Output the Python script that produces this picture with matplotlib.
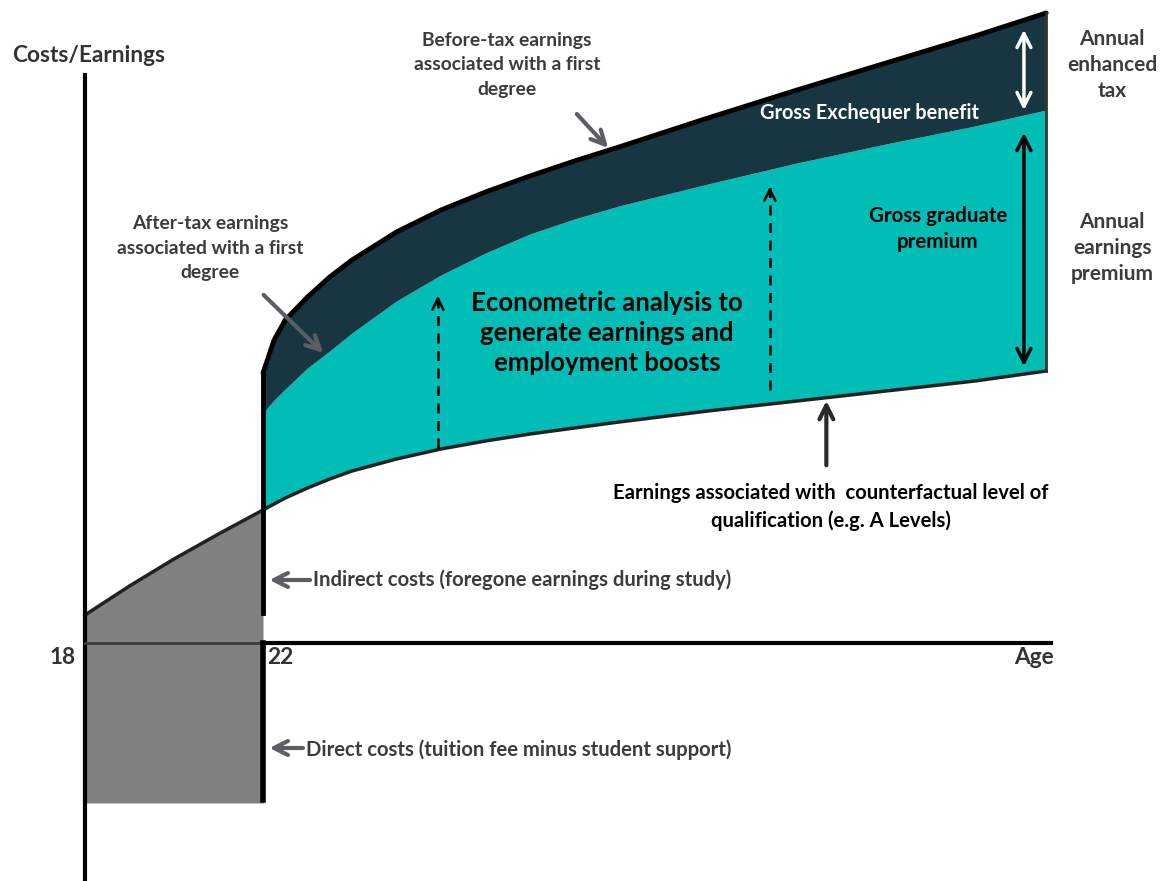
import matplotlib.pyplot as plt

plt.rcParams['font.family'] = ['Lato', 'DejaVu Sans']

# ages and earnings (arbitrary units, 0 = age axis)
study_ages = [18, 19, 20, 21, 22]
study_foregone = [2.8, 5.7, 8.4, 10.9, 13.3]
direct_cost = -16.0

ages = [22, 22.25, 22.5, 23, 23.5, 24, 25, 26, 27, 28, 29, 30, 32, 34, 36, 38, 39.6]
counterfactual = [13.3, 13.9, 14.5, 15.5, 16.4, 17.2, 18.4, 19.4, 20.2, 20.9, 21.5, 22.1, 23.2, 24.2, 25.2, 26.2, 27.2]
after_tax = [23.0, 24.3, 25.4, 27.5, 29.2, 31.0, 34.2, 36.8, 39.0, 40.9, 42.4, 43.7, 45.9, 48.0, 49.9, 51.7, 53.3]
before_tax = [27.0, 30.3, 32.3, 34.6, 36.6, 38.3, 41.1, 43.3, 45.1, 46.7, 48.2, 49.6, 52.5, 55.3, 58.0, 60.7, 63.0]

teal = '#00bdb6'
navy = '#173641'
grey_fill = '#808080'
grey_arrow = '#5b5e63'
txt_grey = '#3c3c3c'

W, H = 1161, 881
fig = plt.figure(figsize=(W / 100, H / 100), dpi=100)
ax = fig.add_axes([0, 0, 1, 1])
ax.set_xlim(16.09, 42.18)
ax.set_ylim(-23.8, 64.3)
ax.axis('off')


def ftext(x, y, s, **kw):
    fig.text(x / W, 1 - y / H, s, **kw)


# costs during study
ax.fill_between(study_ages, study_foregone, direct_cost, color=grey_fill, lw=0, zorder=1)
ax.plot(study_ages, study_foregone, color='#222222', lw=2.5, zorder=3)

# graduate earnings bands
ax.fill_between(ages, counterfactual, after_tax, color=teal, lw=0, zorder=1)
ax.fill_between(ages, after_tax, before_tax, color=navy, lw=0, zorder=1)
ax.plot(ages, counterfactual, color='#222222', lw=2.5, zorder=3)
ax.plot(ages, before_tax, color='black', lw=3.5, zorder=3, solid_capstyle='round')
ax.plot([ages[-1], ages[-1]], [counterfactual[-1], before_tax[-1]], color='#333333', lw=2, zorder=3)

# axes
ax.plot([18, 18], [-23.8, 56.8], color='black', lw=3, zorder=4)
ax.plot([18, 22], [0, 0], color='#3a3a3a', lw=2, zorder=4)
ax.plot([22, 39.7], [0, 0], color='black', lw=3, zorder=4)
ax.plot([22, 22], [3.0, before_tax[0]], color='black', lw=3.5, zorder=4)
ax.plot([22, 22], [0, -15.7], color='black', lw=4, zorder=4)

# premium arrows
ax.annotate('', xy=(39.1, 61.6), xytext=(39.1, 53.0),
            arrowprops=dict(arrowstyle='<->', color='white', lw=2.5, mutation_scale=25), zorder=5)
ax.annotate('', xy=(39.1, 51.3), xytext=(39.1, 27.4),
            arrowprops=dict(arrowstyle='<->', color='black', lw=2.5, mutation_scale=25), zorder=5)

# dashed boosts
for x, y0, y1 in [(25.93, 19.5, 35.0), (33.39, 25.3, 45.9)]:
    ax.plot([x, x], [y0, y1 - 0.3], color='black', lw=1.8, ls=(0, (4, 3)), zorder=5)
    ax.annotate('', xy=(x, y1), xytext=(x, y1 - 1.5),
                arrowprops=dict(arrowstyle='->', color='black', lw=1.8, mutation_scale=20), zorder=5)

# pointer arrows
gp = dict(arrowstyle='->', color=grey_arrow, lw=3, mutation_scale=25)
ax.annotate('', xy=(29.80, 49.3), xytext=(29.01, 53.1), arrowprops=gp, zorder=6)
ax.annotate('', xy=(23.40, 28.8), xytext=(21.97, 35.0), arrowprops=gp, zorder=6)
ax.annotate('', xy=(22.08, 6.3), xytext=(23.12, 6.3), arrowprops=gp, zorder=6)
ax.annotate('', xy=(22.08, -10.5), xytext=(22.96, -10.5), arrowprops=gp, zorder=6)
ax.annotate('', xy=(34.66, 24.5), xytext=(34.66, 17.5),
            arrowprops=dict(arrowstyle='->', color='#2a2a2a', lw=3, mutation_scale=25), zorder=6)

# labels
big = dict(fontsize=16.3, fontweight='bold', color='#333333', va='center')
ftext(12, 55, 'Costs/Earnings', **big)
ftext(63, 658, '18', ha='center', **big)
ftext(280, 658, '22', ha='center', **big)
ftext(1054, 658, 'Age', ha='right', **big)

lab = dict(fontweight='bold', ha='center', va='center')
ftext(507, 65, 'Before-tax earnings\nassociated with a first\ndegree', color=txt_grey, fontsize=13.9,
      linespacing=1.55, **lab)
ftext(210, 248, 'After-tax earnings\nassociated with a first\ndegree', color=txt_grey, fontsize=13.9,
      linespacing=1.55, **lab)
ftext(870, 113, 'Gross Exchequer benefit', color='white', fontsize=14.4, **lab)
ftext(1112, 65, 'Annual\nenhanced\ntax', color=txt_grey, fontsize=15, linespacing=1.4, **lab)
ftext(938, 229, 'Gross graduate\npremium', color='black', fontsize=14.8, linespacing=1.4, **lab)
ftext(1112, 248, 'Annual\nearnings\npremium', color=txt_grey, fontsize=15, linespacing=1.4, **lab)
ftext(831, 507, 'Earnings associated with  counterfactual level of\nqualification (e.g. A Levels)',
      color='black', fontsize=14.6, linespacing=1.4, **lab)
ftext(607, 333, 'Econometric analysis to\ngenerate earnings and\nemployment boosts',
      fontsize=18.5, fontweight='bold', ha='center', va='center', linespacing=1.3, color='black')
ftext(313, 580, 'Indirect costs (foregone earnings during study)', fontsize=14.6, fontweight='bold',
      color=txt_grey, va='center')
ftext(306, 750, 'Direct costs (tuition fee minus student support)', fontsize=14.6, fontweight='bold',
      color=txt_grey, va='center')

fig.savefig('out.png', dpi=100)
